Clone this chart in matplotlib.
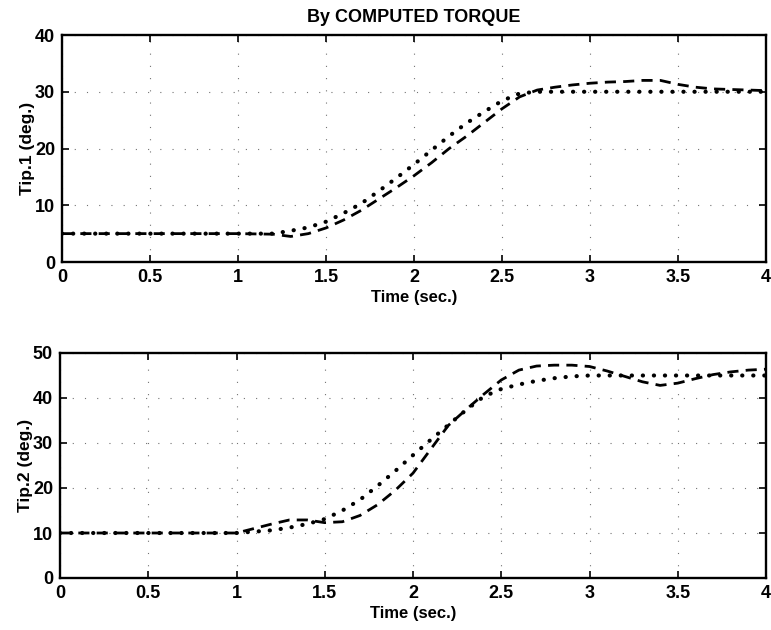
import numpy as np
import matplotlib.pyplot as plt

plt.rcParams['font.family'] = ['Liberation Sans', 'DejaVu Sans']
plt.rcParams['font.weight'] = 'bold'

# Tip 1
t1 = [0.0, 0.5, 1.0, 1.2, 1.3, 1.4, 1.5, 1.6, 1.7, 1.8, 1.9, 2.0, 2.1, 2.2, 2.3,
      2.4, 2.5, 2.6, 2.7, 2.8, 2.9, 3.0, 3.1, 3.2, 3.3, 3.4, 3.5, 3.6, 3.7, 3.8,
      3.9, 4.0]
des1 = [5.0, 5.0, 5.0, 5.0, 5.5, 6.1, 7.1, 8.6, 10.3, 12.5, 14.8, 17.2, 19.7,
        22.2, 24.5, 26.5, 28.4, 29.7, 30.0, 30.0, 30.0, 30.0, 30.0, 30.0, 30.0,
        30.0, 30.0, 30.0, 30.0, 30.0, 30.0, 30.0]
act1 = [5.0, 5.0, 5.0, 4.9, 4.5, 5.0, 6.0, 7.4, 9.1, 11.1, 13.1, 15.2, 17.5,
        20.0, 22.2, 24.6, 27.0, 29.1, 30.3, 30.8, 31.2, 31.5, 31.7, 31.8, 32.0,
        32.0, 31.3, 30.8, 30.5, 30.4, 30.3, 30.2]

# Tip 2
t2 = t1
des2 = [10.0, 10.0, 10.0, 10.6, 11.2, 12.0, 13.1, 15.0, 17.4, 20.5, 23.8, 27.3,
        30.7, 34.0, 37.3, 40.3, 42.0, 43.0, 43.8, 44.4, 44.8, 45.0, 45.0, 45.0,
        45.0, 45.0, 45.0, 45.0, 45.0, 45.0, 45.0, 45.0]
act2 = [10.0, 10.0, 10.0, 12.0, 12.9, 12.9, 12.3, 12.5, 13.9, 16.3, 19.5, 23.3,
        28.6, 33.9, 37.4, 40.8, 44.0, 46.2, 47.1, 47.3, 47.3, 47.0, 46.0, 44.8,
        43.6, 42.8, 43.3, 44.3, 45.2, 45.8, 46.2, 46.4]

xticks = [0, 0.5, 1, 1.5, 2, 2.5, 3, 3.5, 4]
xlabels = ['0', '0.5', '1', '1.5', '2', '2.5', '3', '3.5', '4']

fig = plt.figure(figsize=(7.71, 6.3), dpi=100)
ax1 = fig.add_axes([62/771, 1 - 262/630, 704/771, 227/630])
ax2 = fig.add_axes([60/771, 1 - 578/630, 706/771, 225/630])


def style(ax, ymax, ylabel):
    ax.set_xlim(0, 4)
    ax.set_ylim(0, ymax)
    ax.set_xticks(xticks)
    ax.set_xticklabels(xlabels)
    ax.tick_params(direction='in', top=True, right=True, length=5, width=1.2,
                   labelsize=13, pad=5)
    for lab in ax.get_xticklabels() + ax.get_yticklabels():
        lab.set_fontweight('bold')
    for s in ax.spines.values():
        s.set_linewidth(1.7)
    ax.grid(True, color='0.45', linestyle=(0, (1, 10)), lw=0.8)
    ax.set_xlabel('Time (sec.)', fontsize=12, fontweight='bold', labelpad=3)
    ax.set_ylabel(ylabel, fontsize=12.5, fontweight='bold', labelpad=0)


def curves(ax, t, des, act):
    ax.plot(t, des, color='black', lw=3.0, linestyle=(0, (0.05, 2.6)),
            dash_capstyle='round')
    ax.plot(t, act, color='black', lw=2.0, linestyle=(0, (4.0, 2.6)))


curves(ax1, t1, des1, act1)
style(ax1, 40, 'Tip.1 (deg.)')
ax1.set_yticks([0, 10, 20, 30, 40])
ax1.set_title('By COMPUTED TORQUE', fontsize=13, fontweight='bold', pad=9)

curves(ax2, t2, des2, act2)
style(ax2, 50, 'Tip.2 (deg.)')
ax2.set_yticks([0, 10, 20, 30, 40, 50])

fig.savefig('out.png', dpi=100)
